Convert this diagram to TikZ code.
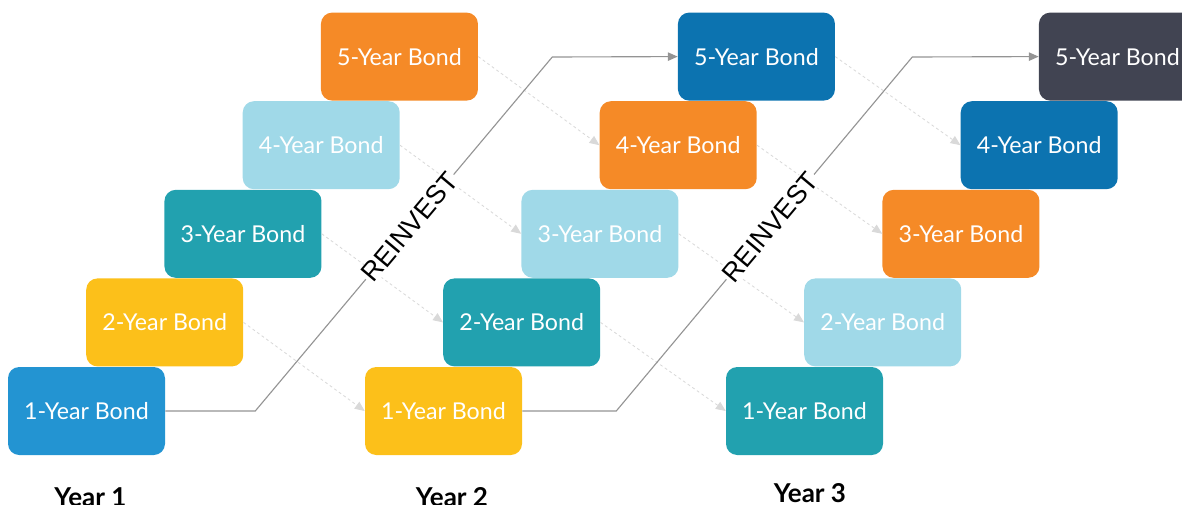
\documentclass[tikz,border=0pt]{standalone}
\usepackage{fontspec}
\setmainfont{Lato}
\newfontfamily\arialfont{Liberation Sans}
\usetikzlibrary{positioning, arrows.meta}
\definecolor{bondblue}{RGB}{35,148,210}
\definecolor{bondyellow}{RGB}{252,192,26}
\definecolor{bondteal}{RGB}{34,161,175}
\definecolor{bondlight}{RGB}{160,217,232}
\definecolor{bondorange}{RGB}{245,138,39}
\definecolor{bonddark}{RGB}{12,115,176}
\definecolor{bondgray}{RGB}{65,68,82}

\begin{document}
\begin{tikzpicture}[on grid,
    bond/.style={rectangle, rounded corners=8pt, minimum width=3.925cm, minimum height=2.2cm,
      text=white, font=\fontsize{16.5}{19}\selectfont, inner sep=0pt},
    roll/.style={-{Triangle[length=7pt,width=6pt]}, color=black!15, dash pattern=on 2pt off 2pt, line width=0.6pt},
    reinvest/.style={-{Triangle[length=7pt,width=6pt]}, color=black!42, line width=0.8pt},
    yearlab/.style={font=\fontsize{18.5}{22}\selectfont\bfseries}]
  \useasboundingbox (0,0) rectangle (29.55,12.6);
  % year 1
  \node[bond, fill=bondblue] (a1) at (2.1625,2.325) {1-Year Bond};
  \node[bond, fill=bondyellow] (a2) [above right=2.215cm and 1.956cm of a1] {2-Year Bond};
  \node[bond, fill=bondteal] (a3) [above right=2.215cm and 1.956cm of a2] {3-Year Bond};
  \node[bond, fill=bondlight] (a4) [above right=2.215cm and 1.956cm of a3] {4-Year Bond};
  \node[bond, fill=bondorange] (a5) [above right=2.215cm and 1.956cm of a4] {5-Year Bond};
  % year 2
  \node[bond, fill=bondyellow] (b1) [right=8.925cm of a1] {1-Year Bond};
  \node[bond, fill=bondteal] (b2) [above right=2.215cm and 1.956cm of b1] {2-Year Bond};
  \node[bond, fill=bondlight] (b3) [above right=2.215cm and 1.956cm of b2] {3-Year Bond};
  \node[bond, fill=bondorange] (b4) [above right=2.215cm and 1.956cm of b3] {4-Year Bond};
  \node[bond, fill=bonddark] (b5) [above right=2.215cm and 1.956cm of b4] {5-Year Bond};
  % year 3
  \node[bond, fill=bondteal] (c1) [right=9.025cm of b1] {1-Year Bond};
  \node[bond, fill=bondlight] (c2) [above right=2.215cm and 1.956cm of c1] {2-Year Bond};
  \node[bond, fill=bondorange] (c3) [above right=2.215cm and 1.956cm of c2] {3-Year Bond};
  \node[bond, fill=bonddark] (c4) [above right=2.215cm and 1.956cm of c3] {4-Year Bond};
  \node[bond, fill=bondgray] (c5) [above right=2.215cm and 1.956cm of c4] {5-Year Bond};

  \node[yearlab] (y1) at (2.26,0.18) {Year 1};
  \node[yearlab] (y2) at (11.3,0.18) {Year 2};
  \node[yearlab] (y3) at (20.25,0.28) {Year 3};

  \draw[roll] (a2.east) -- (b1.west);
  \draw[roll] (a3.east) -- (b2.west);
  \draw[roll] (a4.east) -- (b3.west);
  \draw[roll] (a5.east) -- (b4.west);
  \draw[roll] (b2.east) -- (c1.west);
  \draw[roll] (b3.east) -- (c2.west);
  \draw[roll] (b4.east) -- (c3.west);
  \draw[roll] (b5.east) -- (c4.west);

  \draw[reinvest] (a1.east) -- ++(2.25,0) -- ++(7.425,8.85)
    node[pos=0.52, sloped, fill=white, text=black, inner sep=1pt, font=\arialfont\fontsize{19}{22}\selectfont] {REINVEST}
    -- (b5.west);
  \draw[reinvest] (b1.east) -- ++(2.35,0) -- ++(7.4,8.85)
    node[pos=0.52, sloped, fill=white, text=black, inner sep=1pt, font=\arialfont\fontsize{19}{22}\selectfont] {REINVEST}
    -- (c5.west);
\end{tikzpicture}
\end{document}
